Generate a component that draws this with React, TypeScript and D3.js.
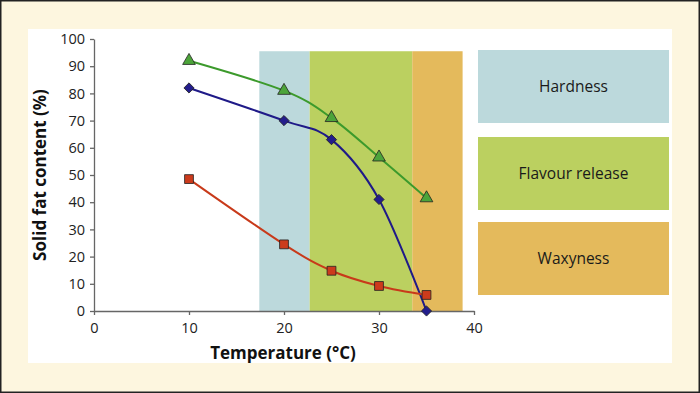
import React, { useEffect, useRef } from 'react';
import * as d3 from 'd3';

const temps = [10, 20, 25, 30, 35];
const seriesA = [92, 81, 71, 56.5, 41.5]; // green triangles
const seriesB = [82, 70, 63, 41, 0]; // blue diamonds
const seriesC = [48.5, 24.5, 14.8, 9.2, 5.9]; // red squares

const xTicks = [0, 10, 20, 30, 40];
const yTicks = [0, 10, 20, 30, 40, 50, 60, 70, 80, 90, 100];

const bandNames = ['Hardness', 'Flavour release', 'Waxyness'];
const bandStarts = [17.4, 22.7, 33.5];
const bandEnds = [22.7, 33.5, 38.8];
const bandTop = 95.5;
const bandColors = ['#bcd9dc', '#bbd060', '#e4ba5c'];

const font = '"Open Sans", sans-serif';

const App = () => {
  const svgRef = useRef<SVGSVGElement>(null);

  useEffect(() => {
    const svg = d3.select(svgRef.current);
    const width = 700;
    const height = 393;

    svg.selectAll('*').remove();

    // frame
    svg.append('rect')
      .attr('x', 0.75).attr('y', 0.75)
      .attr('width', width - 1.5).attr('height', height - 1.5)
      .attr('fill', '#fdf6df')
      .attr('stroke', '#222').attr('stroke-width', 1.5);

    svg.append('rect')
      .attr('x', 28).attr('y', 29)
      .attr('width', 644).attr('height', 334)
      .attr('fill', '#fff');

    const x = d3.scaleLinear().domain([0, 40]).range([94, 474]);
    const y = d3.scaleLinear().domain([0, 100]).range([311, 39]);

    // shaded bands
    svg.append('g')
      .selectAll('rect')
      .data(bandNames)
      .join('rect')
        .attr('x', (d, i) => x(bandStarts[i]))
        .attr('y', y(bandTop))
        .attr('width', (d, i) => x(bandEnds[i]) - x(bandStarts[i]))
        .attr('height', y(0) - y(bandTop))
        .attr('fill', (d, i) => bandColors[i]);

    // axes
    const yAxis = svg.append('g')
      .attr('transform', `translate(${x(0)},0)`)
      .call(d3.axisLeft(y).tickValues(yTicks).tickSize(4).tickPadding(5).tickSizeOuter(0));
    const xAxis = svg.append('g')
      .attr('transform', `translate(0,${y(0)})`)
      .call(d3.axisBottom(x).tickValues(xTicks).tickSize(4).tickPadding(8).tickSizeOuter(0));

    [yAxis, xAxis].forEach(g => {
      g.select('.domain').attr('stroke', '#666').attr('stroke-width', 1.3);
      g.selectAll('.tick line').attr('stroke', '#666').attr('stroke-width', 1.3);
      g.selectAll('.tick text')
        .attr('fill', '#222')
        .style('font-family', font)
        .style('font-size', '14.5px');
    });

    // axis titles
    svg.append('text')
      .attr('x', 283).attr('y', 359)
      .attr('text-anchor', 'middle')
      .attr('fill', '#111')
      .style('font-family', font)
      .style('font-weight', 'bold')
      .style('font-size', '17px')
      .text('Temperature (°C)');

    svg.append('text')
      .attr('transform', `translate(46,${(y(0) + y(100)) / 2}) rotate(-90)`)
      .attr('text-anchor', 'middle')
      .attr('fill', '#111')
      .style('font-family', font)
      .style('font-weight', 'bold')
      .style('font-size', '17px')
      .text('Solid fat content (%)');

    // lines
    const line = d3.line<number>()
      .x((d, i) => x(temps[i]))
      .y(d => y(d))
      .curve(d3.curveCardinal.tension(0));

    const series = [
      { values: seriesA, color: '#3c9a2c', fill: '#4ca43a', shape: d3.symbolTriangle, size: 70, rot: 0 },
      { values: seriesB, color: '#1f1a88', fill: '#231d8c', shape: d3.symbolSquare, size: 52, rot: 45 },
      { values: seriesC, color: '#c83a1a', fill: '#cc3b1c', shape: d3.symbolSquare, size: 78, rot: 0 },
    ];

    series.forEach(s => {
      svg.append('path')
        .attr('d', line(s.values))
        .attr('fill', 'none')
        .attr('stroke', s.color)
        .attr('stroke-width', 2);
    });

    series.forEach(s => {
      svg.append('g')
        .selectAll('path')
        .data(s.values)
        .join('path')
          .attr('transform', (d, i) => `translate(${x(temps[i])},${y(d)}) rotate(${s.rot})`)
          .attr('d', d3.symbol().type(s.shape).size(s.size)())
          .attr('fill', s.fill)
          .attr('stroke', '#222')
          .attr('stroke-width', 0.8);
    });

    // legend boxes
    const boxTops = [50, 137, 222];
    const legend = svg.append('g')
      .selectAll('g')
      .data(bandNames)
      .join('g')
        .attr('transform', (d, i) => `translate(478,${boxTops[i]})`);
    legend.append('rect')
      .attr('width', 191).attr('height', 73)
      .attr('fill', (d, i) => bandColors[i]);
    legend.append('text')
      .attr('x', 95.5).attr('y', 42)
      .attr('text-anchor', 'middle')
      .attr('fill', '#1a1a1a')
      .style('font-family', font)
      .style('font-size', '15.5px')
      .text(d => d);
  }, []);

  return <svg ref={svgRef} width="700" height="393" style={{ display: 'block', position: 'absolute', left: 0, top: 0 }}></svg>;
};

export default App;
